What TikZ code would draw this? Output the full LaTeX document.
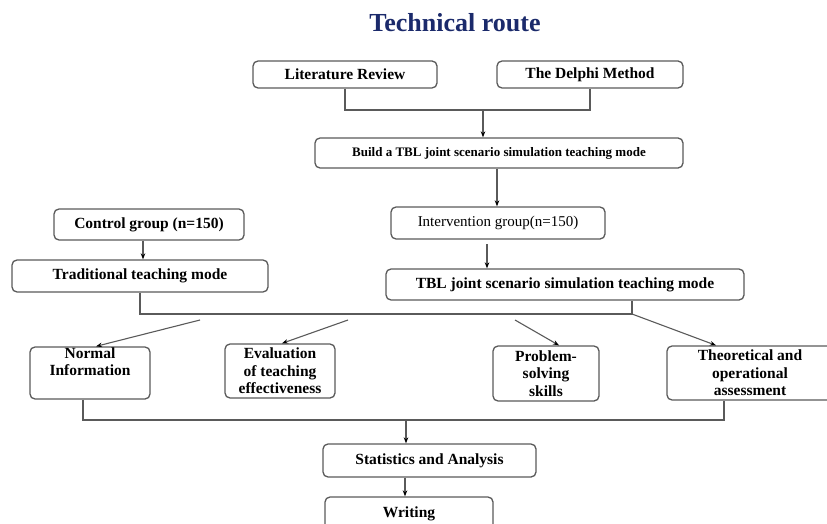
\documentclass[tikz,border=0pt]{standalone}
\usepackage{fontspec}
\setmainfont{Liberation Serif}
\usetikzlibrary{arrows.meta,calc}
\definecolor{navy}{HTML}{1B2A6B}
\definecolor{edgegray}{HTML}{5A5A5A}
\begin{document}
\begin{tikzpicture}[x=1pt,y=-1pt,
  box/.style={draw=edgegray,line width=1.3pt,rounded corners=5pt,fill=white,inner sep=0pt,align=center,font=\fontsize{15.5}{17.5}\selectfont\bfseries},
  conn/.style={draw=edgegray,line width=1.1pt},
  arr/.style={conn,-{Stealth[length=6pt,width=4.5pt,color=black]}}]
\useasboundingbox (0,0) rectangle (827,524);
\clip (0,0) rectangle (827,524);

\node[font=\fontsize{26}{30}\selectfont\bfseries,text=navy] (title) at (455,23) {Technical route};

\node[box,minimum width=184pt,minimum height=27pt] (lit) at (345,74.5) {Literature Review};
\node[box,minimum width=186pt,minimum height=27pt] (delphi) at (590,74.5) {The Delphi Method};
\node[box,minimum width=368pt,minimum height=30pt,font=\fontsize{13}{15}\selectfont\bfseries] (build) at (499,153) {Build a TBL joint scenario simulation teaching mode};
\node[box,minimum width=214pt,minimum height=32pt,font=\fontsize{15}{17}\selectfont] (interv) at (498,223) {Intervention group(n=150)};
\node[box,minimum width=190pt,minimum height=31pt] (control) at (149,224.5) {Control group (n=150)};
\node[box,minimum width=256pt,minimum height=32pt] (trad) at (140,276) {Traditional teaching mode};
\node[box,minimum width=358pt,minimum height=31pt] (tbl) at (565,284.5) {TBL joint scenario simulation teaching mode};

\node[box,minimum width=120pt,minimum height=52pt] (normal) at (90,373) {Normal\\Information\\\strut};
\node[box,minimum width=110pt,minimum height=54pt] (eval) at (280,371) {Evaluation\\of teaching\\effectiveness};
\node[box,minimum width=106pt,minimum height=55pt] (prob) at (546,373.5) {Problem-\\solving\\skills};
\node[box,minimum width=166pt,minimum height=54pt] (theo) at (750,373) {Theoretical and\\operational\\assessment};
\node[box,minimum width=213pt,minimum height=33pt] (stats) at (429.5,460.5) {Statistics and Analysis};
\node[box,minimum width=168pt,minimum height=33pt] (writing) at (409,513.5) {Writing};

\coordinate (j1) at (483,110);
\draw[conn] (lit.south) |- (j1) -| (delphi.south);
\draw[arr] (j1) -- (j1 |- build.north);
\draw[arr] ([xshift=-2pt]build.south) -- ([xshift=-2pt]build.south |- interv.north);
\draw[arr] ([xshift=-6pt]control.south) -- ([xshift=-6pt]control.south |- trad.north);
\coordinate (i1) at (487,244);
\draw[arr] (i1) -- (i1 |- tbl.north);
\coordinate (jr) at (632,314);
\draw[conn] (trad.south) |- (jr) -- (jr |- tbl.south);
\coordinate (d1) at (200,320);
\coordinate (d2) at (348,320);
\coordinate (d3) at (515,320);
\draw[arr] (d1) -- ([xshift=6pt]normal.north);
\draw[arr] (d2) -- ([xshift=2pt]eval.north);
\draw[arr] (d3) -- ([xshift=13pt]prob.north);
\draw[arr] (jr) -- ([xshift=-34pt]theo.north);
\coordinate (jb) at (406,420);
\draw[conn] ([xshift=-7pt]normal.south) |- (jb) -| ([xshift=-26pt]theo.south);
\draw[arr] (jb) -- (jb |- stats.north);
\draw[arr] ([xshift=-24.5pt]stats.south) -- ([xshift=-24.5pt]stats.south |- writing.north);
\end{tikzpicture}
\end{document}
